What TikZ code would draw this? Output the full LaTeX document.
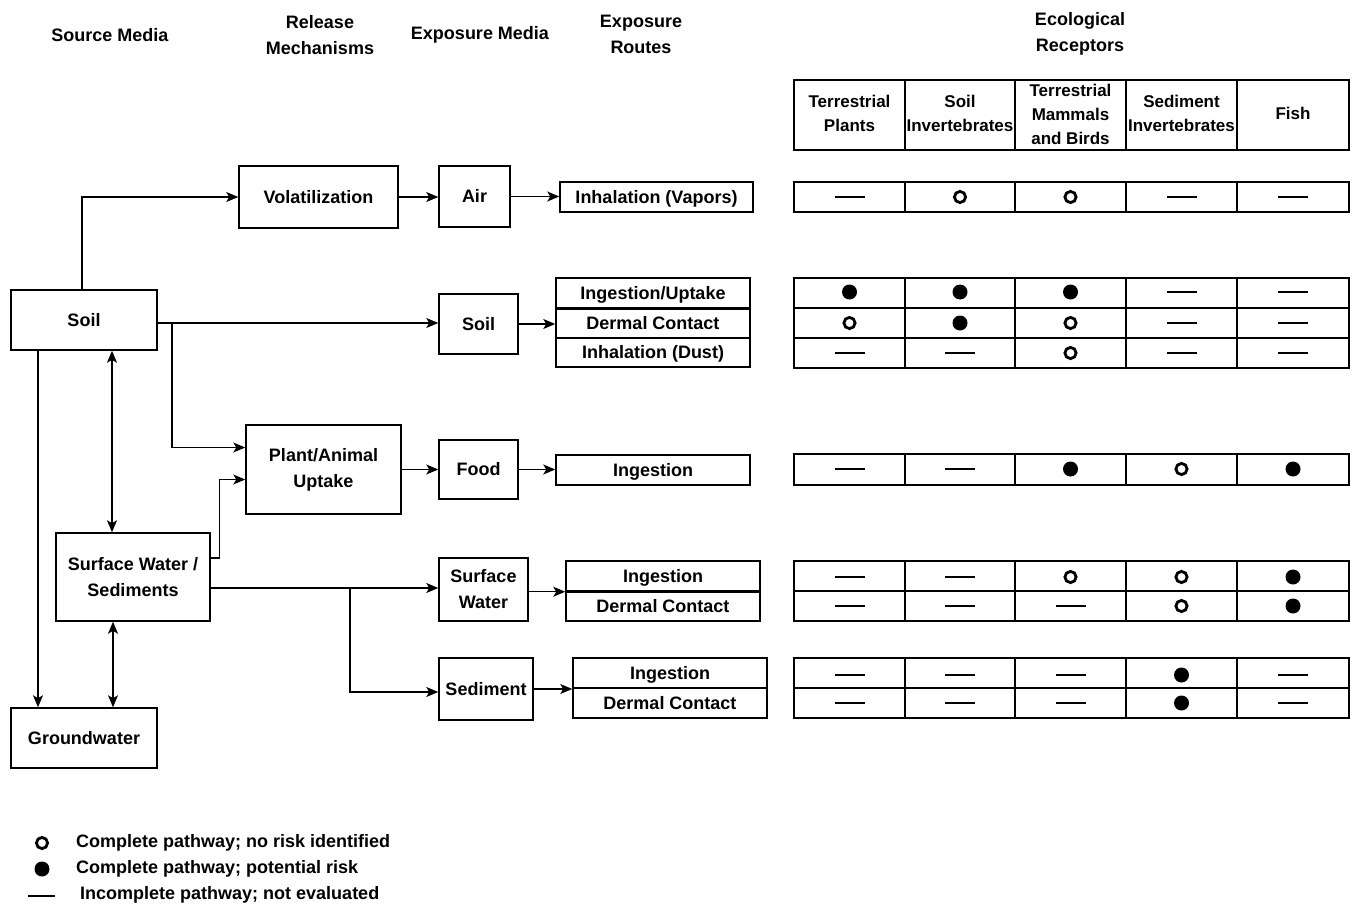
\documentclass[tikz,border=0pt]{standalone}
\usepackage{fontspec}
\setmainfont{Liberation Sans}
\usetikzlibrary{arrows.meta}
\newcommand\symrow[6]{\foreach \s/\xx in {#2/849.5,#3/960,#4/1070.5,#5/1181.5,#6/1293} \pic at (\xx,#1) {\s};}
\newcommand\tblock[2]{\draw[tline] (794,#1) rectangle (1349,#2);
  \foreach \xx in {905,1015,1126,1237} \draw[tline] (\xx,#1) -- (\xx,#2);}
\begin{document}
\begin{tikzpicture}[x=1pt,y=-1pt,
  every node/.style={font=\bfseries\fontsize{18}{26}\selectfont},
  box/.style={draw, line width=1.5pt, inner sep=0pt, align=center},
  one/.style={text height=12pt, text depth=0pt},
  hdr/.style={align=center, inner sep=0pt},
  thd/.style={align=center, inner sep=0pt, font=\bfseries\fontsize{17}{24}\selectfont},
  arr/.style={line width=1.3pt, -{Stealth[length=12pt,width=10pt,inset=3pt]}},
  darr/.style={line width=1.3pt, {Stealth[length=12pt,width=10pt,inset=3pt]}-{Stealth[length=12pt,width=10pt,inset=3pt]}},
  tline/.style={line width=1.5pt},
  symO/.pic={\draw[line width=2.8pt] (0,0) circle (5.6pt);},
  symF/.pic={\fill (0,0) circle (7.5pt);},
  symD/.pic={\draw[line width=1.1pt] (-15pt,0) -- (15pt,0);},
  lbl/.style={anchor=west, inner sep=0pt}]
\useasboundingbox (0,0) rectangle (1353,907);
% headers
\node[hdr] (h1) at (110,35) {Source Media};
\node[hdr] (h2) at (320,35) {Release\\Mechanisms};
\node[hdr] (h3) at (480,35) {Exposure Media};
\node[hdr] (h4) at (641,34) {Exposure\\Routes};
\node[hdr] (h5) at (1080,34) {Ecological\\Receptors};
% source media
\node[box, one, minimum width=146pt, minimum height=60pt] (soil) at (84,320) {Soil};
\node[box, minimum width=154pt, minimum height=88pt] (sw) at (133,577) {Surface Water /\\Sediments};
\node[box, one, minimum width=146pt, minimum height=60pt] (gw) at (84,738) {Groundwater};
% release mechanisms
\node[box, one, minimum width=159pt, minimum height=62pt] (vol) at (318.5,197) {Volatilization};
\node[box, minimum width=155pt, minimum height=89pt] (plant) at (323.5,469.5) {Plant/Animal\\Uptake};
% exposure media
\node[box, one, minimum width=71pt, minimum height=61pt] (air) at (474.5,196.5) {Air};
\node[box, one, minimum width=79pt, minimum height=60pt] (soilE) at (478.5,324) {Soil};
\node[box, one, minimum width=79pt, minimum height=59pt] (food) at (478.5,469.5) {Food};
\node[box, minimum width=89pt, minimum height=63pt] (swE) at (483.5,589.5) {Surface\\Water};
\node[box, one, minimum width=94pt, minimum height=62pt] (sed) at (486,689) {Sediment};
% exposure routes
\node[box, one, minimum width=193pt, minimum height=30pt] (vap) at (656.5,197) {Inhalation (Vapors)};
\node[box, one, minimum width=194pt, minimum height=30pt] (r1) at (653,293) {Ingestion/Uptake};
\node[box, one, minimum width=194pt, minimum height=30pt] (r2) at (653,323) {Dermal Contact};
\node[box, one, minimum width=194pt, minimum height=29pt] (r3) at (653,352.5) {Inhalation (Dust)};
\draw[line width=3pt] (r1.south west) -- (r1.south east);
\node[box, one, minimum width=194pt, minimum height=30pt] (fi) at (653,470) {Ingestion};
\node[box, one, minimum width=194pt, minimum height=30pt] (s1) at (663,576) {Ingestion};
\node[box, one, minimum width=194pt, minimum height=30pt] (s2) at (663,606) {Dermal Contact};
\draw[line width=3pt] (s1.south west) -- (s1.south east);
\node[box, one, minimum width=194pt, minimum height=30pt] (d1) at (670,673) {Ingestion};
\node[box, one, minimum width=194pt, minimum height=30pt] (d2) at (670,703) {Dermal Contact};
% connectors
\draw[arr] ([xshift=-2pt]soil.north) |- (vol.west);
\draw[arr] ([yshift=-3pt]soil.east) -- ([yshift=-3pt]soil.east -| soilE.west);
\coordinate (b1) at (172,323);
\draw[arr] (b1) |- ([yshift=22pt]plant.west);
\draw[arr] ([yshift=19pt]sw.east) -- ++(9,0) |- ([yshift=-10pt]plant.west);
\coordinate (b2) at (350,588);
\draw[arr] ([yshift=-11pt]sw.east) -- (swE.west |- b2);
\draw[arr] (b2) |- ([yshift=-3pt]sed.west);
\draw[arr] ([xshift=-46pt]soil.south) -- ([xshift=-46pt]gw.north);
\draw[darr] ([xshift=28pt]soil.south) -- ([xshift=28pt]soil.south |- sw.north);
\draw[darr] ([xshift=-20pt]sw.south) -- ([xshift=-20pt]sw.south |- gw.north);
\draw[arr] (vol.east) -- (vol.east -| air.west);
\draw[arr] (air.east) -- (air.east -| vap.west);
\draw[arr] (soilE.east) -- (soilE.east -| r2.west);
\draw[arr] (plant.east) -- (plant.east -| food.west);
\draw[arr] (food.east) -- (food.east -| fi.west);
\draw[arr] (swE.east |- s1.south) -- (s1.south west);
\draw[arr] (sed.east) -- (sed.east -| d1.west);
% table header
\tblock{80}{150}
\node[thd] (c1) at (849.5,113) {Terrestrial\\Plants};
\node[thd] (c2) at (960,113) {Soil\\Invertebrates};
\node[thd] (c3) at (1070.5,114) {Terrestrial\\Mammals\\and Birds};
\node[thd] (c4) at (1181.5,113) {Sediment\\Invertebrates};
\node[thd] (c5) at (1293,113) {Fish};
% table body
\tblock{182}{212}
\symrow{197}{symD}{symO}{symO}{symD}{symD}
\tblock{278}{368}
\draw[tline] (794,308) -- (1349,308);
\draw[tline] (794,338) -- (1349,338);
\symrow{292}{symF}{symF}{symF}{symD}{symD}
\symrow{323}{symO}{symF}{symO}{symD}{symD}
\symrow{353}{symD}{symD}{symO}{symD}{symD}
\tblock{454}{485}
\symrow{469}{symD}{symD}{symF}{symO}{symF}
\tblock{561}{621}
\draw[tline] (794,591) -- (1349,591);
\symrow{577}{symD}{symD}{symO}{symO}{symF}
\symrow{606}{symD}{symD}{symD}{symO}{symF}
\tblock{658}{718}
\draw[tline] (794,688) -- (1349,688);
\symrow{675}{symD}{symD}{symD}{symF}{symD}
\symrow{703}{symD}{symD}{symD}{symF}{symD}
% legend
\pic at (42,843) {symO};
\pic at (42,869) {symF};
\draw[line width=1.1pt] (28,896) -- (55,896);
\node[lbl] (l1) at (76,843) {Complete pathway; no risk identified};
\node[lbl] (l2) at (76,869) {Complete pathway; potential risk};
\node[lbl] (l3) at (80,895) {Incomplete pathway; not evaluated};
\end{tikzpicture}
\end{document}
